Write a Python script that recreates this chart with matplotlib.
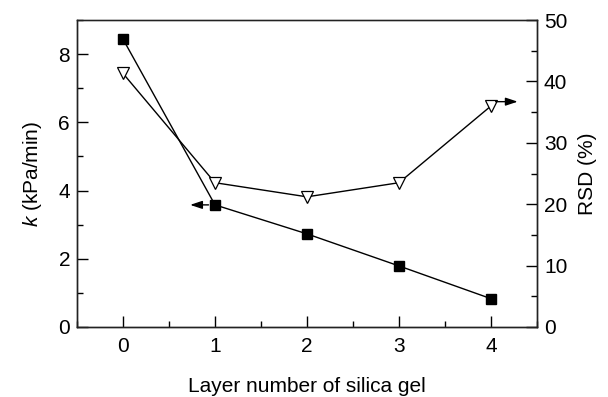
import matplotlib
matplotlib.use("Agg")
import matplotlib.pyplot as plt
from matplotlib.ticker import MultipleLocator

plt.rcParams['font.family'] = ['Liberation Sans', 'DejaVu Sans']
plt.rcParams['mathtext.fontset'] = 'custom'
plt.rcParams['mathtext.it'] = 'Liberation Sans:italic'
plt.rcParams['mathtext.rm'] = 'Liberation Sans'

layers = [0, 1, 2, 3, 4]
k_values = [8.44, 3.58, 2.73, 1.79, 0.83]
rsd_values = [41.3, 23.5, 21.2, 23.5, 36.0]

fig = plt.figure(figsize=(6.08, 3.97), dpi=100)
ax = fig.add_axes([77/608, 1-327/397, (537-77)/608, (327-20)/397])
ax2 = ax.twinx()

fs = 15
ax.plot(layers, k_values, color='black', lw=1, marker='s', ms=6.5,
        mfc='black', mec='black', zorder=3)
ax2.plot(layers, rsd_values, color='black', lw=1, marker='v', ms=8.5,
         mfc='white', mec='black', mew=0.9, zorder=3)

ax.set_xlim(-0.5, 4.5)
ax.set_ylim(0, 9)
ax2.set_ylim(0, 50)

ax.xaxis.set_major_locator(MultipleLocator(1))
ax.xaxis.set_minor_locator(MultipleLocator(0.5))
ax.yaxis.set_major_locator(MultipleLocator(2))
ax.yaxis.set_minor_locator(MultipleLocator(1))
ax2.yaxis.set_major_locator(MultipleLocator(10))
ax2.yaxis.set_minor_locator(MultipleLocator(5))

for a in (ax, ax2):
    a.tick_params(which='major', direction='in', length=8, width=1, labelsize=fs, pad=5)
    a.tick_params(which='minor', direction='in', length=4, width=1)
    for s in a.spines.values():
        s.set_linewidth(1)
        s.set_color('#222222')
ax.spines['top'].set_color('#666666')
ax.tick_params(axis='x', pad=7)

ax.set_xlabel('Layer number of silica gel', fontsize=fs, labelpad=15)
ax.set_ylabel(r'$k$ (kPa/min)', fontsize=fs, labelpad=10)
ax2.set_ylabel('RSD (%)', fontsize=fs, labelpad=8)

# direction arrows
ax.annotate('', xy=(0.73, k_values[1]), xytext=(0.93, k_values[1]),
            arrowprops=dict(arrowstyle='-|>,head_length=0.6,head_width=0.2',
                            color='black', lw=1, mutation_scale=12,
                            shrinkA=0, shrinkB=0))
ax2.annotate('', xy=(4.29, 36.7), xytext=(4.05, 36.7),
             arrowprops=dict(arrowstyle='-|>,head_length=0.6,head_width=0.2',
                             color='black', lw=1, mutation_scale=12,
                             shrinkA=0, shrinkB=0))

fig.savefig('out.png', dpi=100)
